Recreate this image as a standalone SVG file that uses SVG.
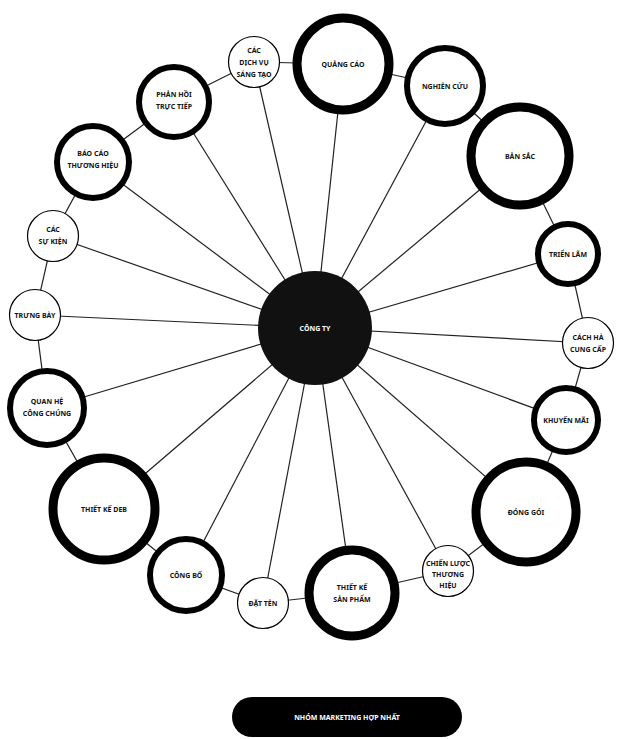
<svg xmlns="http://www.w3.org/2000/svg" width="617" height="739" viewBox="0 0 617 739">
<style>
.ln{stroke:#222;stroke-width:1.2;fill:none}
.n{fill:#fff;stroke:#000}
.thin{stroke-width:1.2}
.mid{stroke-width:6}
.thick{stroke-width:9}
text{font-family:"Noto Sans","DejaVu Sans","Liberation Sans",sans-serif;font-weight:bold;font-size:7px;fill:#111;text-anchor:middle}
.w{fill:#fff}
</style>
<rect width="617" height="739" fill="#fff"/>
<g id="connectors">
<line class="ln" x1="315" y1="328" x2="254" y2="62"/>
<line class="ln" x1="315" y1="328" x2="343" y2="64"/>
<line class="ln" x1="315" y1="328" x2="445" y2="86"/>
<line class="ln" x1="315" y1="328" x2="520" y2="156"/>
<line class="ln" x1="315" y1="328" x2="568" y2="254"/>
<line class="ln" x1="315" y1="328" x2="588" y2="343"/>
<line class="ln" x1="315" y1="328" x2="566" y2="420"/>
<line class="ln" x1="315" y1="328" x2="526" y2="512"/>
<line class="ln" x1="315" y1="328" x2="448" y2="571"/>
<line class="ln" x1="315" y1="328" x2="352" y2="593"/>
<line class="ln" x1="315" y1="328" x2="263" y2="603"/>
<line class="ln" x1="315" y1="328" x2="186" y2="575"/>
<line class="ln" x1="315" y1="328" x2="104" y2="509"/>
<line class="ln" x1="315" y1="328" x2="47" y2="408"/>
<line class="ln" x1="315" y1="328" x2="35" y2="315"/>
<line class="ln" x1="315" y1="328" x2="53" y2="236"/>
<line class="ln" x1="315" y1="328" x2="93" y2="162"/>
<line class="ln" x1="315" y1="328" x2="174" y2="102"/>
<polyline class="ln" points="254,62 343,64 445,86 520,156 568,254 588,343 566,420 526,512 448,571 352,593 263,603 186,575 104,509 47,408 35,315 53,236 93,162 174,102 254,62"/>
</g>
<g id="n-dichvu"><circle class="n thin" cx="254" cy="62" r="25.5"/><text x="254" y="53">CÁC</text><text x="254" y="65">DỊCH VỤ</text><text x="254" y="77">SÁNG TẠO</text></g>
<g id="n-quangcao"><circle class="n thick" cx="343" cy="64" r="46"/><text x="343" y="67">QUẢNG CÁO</text></g>
<g id="n-nghiencuu"><circle class="n mid" cx="445" cy="86" r="38"/><text x="445" y="89">NGHIÊN CỨU</text></g>
<g id="n-bansac"><circle class="n thick" cx="520" cy="156" r="49"/><text x="520" y="159">BẢN SẮC</text></g>
<g id="n-trienlam"><circle class="n mid" cx="568" cy="254" r="30"/><text x="568" y="257">TRIỂN LÃM</text></g>
<g id="n-nhacungcap"><circle class="n thin" cx="588" cy="343" r="25.5"/><text x="588" y="340">CÁCH HÀ</text><text x="588" y="352">CUNG CẤP</text></g>
<g id="n-khuyenmai"><circle class="n mid" cx="566" cy="420" r="32"/><text x="566" y="423">KHUYẾN MÃI</text></g>
<g id="n-donggoi"><circle class="n thick" cx="526" cy="512" r="50"/><text x="526" y="515">ĐÓNG GÓI</text></g>
<g id="n-chienluoc"><circle class="n thin" cx="448" cy="571" r="25.5"/><text x="448" y="566">CHIẾN LƯỢC</text><text x="448" y="577">THƯƠNG</text><text x="448" y="588">HIỆU</text></g>
<g id="n-sanpham"><circle class="n thick" cx="352" cy="593" r="43"/><text x="352" y="590">THIẾT KẾ</text><text x="352" y="602">SẢN PHẨM</text></g>
<g id="n-dietten"><circle class="n thin" cx="263" cy="603" r="25.5"/><text x="263" y="606">ĐẶT TÊN</text></g>
<g id="n-congbo"><circle class="n mid" cx="186" cy="575" r="36"/><text x="186" y="578">CÔNG BỐ</text></g>
<g id="n-web"><circle class="n thick" cx="104" cy="509" r="51"/><text x="104" y="512">THIẾT KẾ DEB</text></g>
<g id="n-quanhe"><circle class="n mid" cx="47" cy="408" r="37"/><text x="47" y="404">QUAN HỆ</text><text x="47" y="416">CÔNG CHÚNG</text></g>
<g id="n-trungbay"><circle class="n thin" cx="35" cy="315" r="25.5"/><text x="35" y="318">TRƯNG BÀY</text></g>
<g id="n-sukien"><circle class="n thin" cx="53" cy="236" r="25.5"/><text x="53" y="232">CÁC</text><text x="53" y="244">SỰ KIỆN</text></g>
<g id="n-baocao"><circle class="n mid" cx="93" cy="162" r="36"/><text x="93" y="156">BÁO CÁO</text><text x="93" y="168">THƯƠNG HIỆU</text></g>
<g id="n-phanhoi"><circle class="n mid" cx="174" cy="102" r="35"/><text x="174" y="97">PHẢN HỒI</text><text x="174" y="109">TRỰC TIẾP</text></g>
<g id="n-congty"><circle cx="315" cy="328" r="57" fill="#111"/><text class="w" x="315" y="331">CÔNG TY</text></g>
<g id="n-nhom"><rect x="232" y="697" width="230" height="40" rx="20" fill="#000"/><text class="w" x="347" y="720">NHÓM MARKETING HỢP NHẤT</text></g>
</svg>
